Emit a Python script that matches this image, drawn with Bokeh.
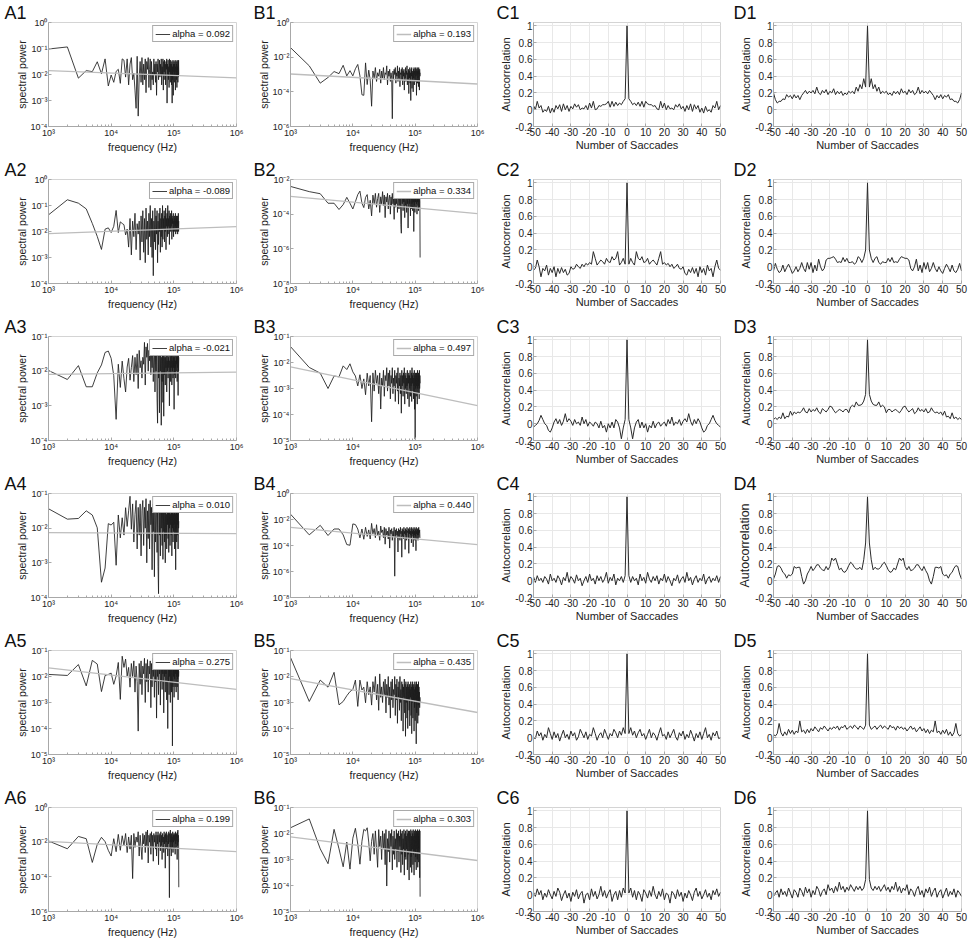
import numpy as np
from bokeh.plotting import figure
from bokeh.layouts import gridplot
from bokeh.models import Range1d, FixedTicker, CustomJSTickFormatter, Legend, LegendItem
from bokeh.embed import file_html
from bokeh.resources import INLINE

# ---------------- data ----------------
freq_step_hz = 1000
freq_index = list(range(1, 121))          # frequency = index * 1000 Hz

# log10(spectral power) per frequency index
A1_log_power = [-1.02,-0.94,-2.14,-1.85,-1.89,-1.51,-1.97,-1.40,-2.44,-2.02,
 -2.30,-1.88,-1.80,-2.34,-1.40,-1.45,-2.10,-1.40,-2.40,-1.60,
 -1.35,-2.20,-1.95,-2.60,-3.30,-1.30,-3.60,-2.10,-1.50,-2.30,
 -1.35,-2.40,-1.60,-2.20,-1.40,-2.70,-1.50,-1.80,-1.35,-2.50,
 -1.80,-1.40,-2.60,-1.50,-2.20,-1.90,-2.40,-1.40,-2.00,-1.60,
 -2.30,-1.50,-2.80,-1.60,-1.90,-1.40,-2.20,-1.80,-1.45,-2.10,
 -1.60,-2.00,-1.40,-2.40,-1.70,-2.00,-1.40,-2.60,-1.50,-1.90,
 -1.45,-2.20,-1.60,-2.40,-1.50,-1.80,-1.40,-3.10,-1.60,-2.00,
 -1.45,-2.20,-1.70,-2.50,-1.40,-1.90,-1.60,-2.30,-1.45,-2.00,
 -1.60,-2.40,-1.50,-3.10,-1.70,-2.20,-1.45,-2.80,-1.60,-1.90,
 -1.50,-2.30,-1.60,-2.00,-1.45,-2.60,-1.70,-1.90,-1.50,-2.20,
 -1.60,-2.50,-1.45,-2.00,-1.70,-2.30,-1.50,-2.10,-1.45,-2.00]
A2_log_power = [-1.36,-0.78,-0.91,-1.13,-1.69,-2.19,-2.69,-1.91,-1.86,-2.04,
 -1.80,-1.19,-2.04,-1.63,-1.69,-1.74,-2.13,-1.91,-2.60,-1.50,
 -2.90,-1.60,-2.20,-1.30,-2.70,-1.70,-2.10,-1.60,-3.10,-1.40,
 -2.40,-1.20,-2.80,-1.50,-3.20,-1.10,-2.30,-1.60,-2.90,-1.30,
 -2.20,-1.00,-2.60,-1.50,-3.00,-1.20,-3.70,-1.60,-2.40,-1.10,
 -2.70,-1.40,-2.10,-1.20,-3.20,-1.60,-2.50,-1.30,-2.00,-1.10,
 -2.80,-1.50,-2.20,-1.30,-2.60,-1.00,-2.30,-1.50,-1.90,-1.20,
 -2.40,-1.40,-2.00,-1.10,-2.70,-1.50,-1.80,-1.30,-2.20,-1.00,
 -2.10,-1.50,-1.80,-1.20,-2.50,-1.40,-1.90,-1.30,-2.00,-1.50,
 -1.80,-1.20,-2.30,-1.40,-1.70,-1.50,-2.00,-1.30,-2.20,-1.60,
 -1.70,-1.40,-2.00,-1.50,-1.80,-1.30,-2.10,-1.60,-1.90,-1.40,
 -2.00,-1.50,-1.70,-1.40,-2.10,-1.60,-1.80,-1.30,-2.00,-1.60]
A3_log_power = [-1.98,-2.24,-1.84,-2.45,-2.45,-2.05,-1.82,-1.46,-1.42,-1.63,
 -2.13,-3.39,-1.80,-2.47,-1.71,-2.22,-2.60,-1.88,-1.63,-2.26,
 -1.90,-1.55,-2.30,-1.60,-2.10,-1.50,-2.50,-1.40,-1.90,-1.70,
 -2.20,-1.60,-1.80,-1.17,-2.40,-1.30,-1.60,-1.20,-2.00,-1.40,
 -1.70,-1.25,-2.10,-1.40,-1.90,-1.30,-2.30,-1.60,-1.40,-2.60,
 -1.50,-2.00,-1.30,-2.80,-3.50,-1.40,-2.20,-1.30,-3.20,-1.50,
 -2.00,-1.40,-3.56,-1.60,-2.30,-1.50,-2.90,-1.40,-3.30,-1.60,
 -2.10,-1.50,-2.40,-1.60,-1.90,-1.40,-2.60,-1.70,-2.00,-1.50,
 -2.20,-1.60,-1.90,-1.40,-3.00,-1.70,-2.00,-1.50,-2.30,-1.60,
 -1.90,-1.50,-2.40,-1.70,-2.00,-1.40,-2.20,-1.60,-1.90,-1.50,
 -3.10,-1.60,-2.10,-1.50,-1.90,-1.70,-2.20,-1.40,-2.00,-1.60,
 -1.80,-1.50,-2.30,-1.60,-1.90,-1.20,-2.70,-1.50,-2.00,-1.60]
A4_log_power = [-1.44,-1.74,-1.72,-1.50,-1.62,-1.99,-3.56,-3.15,-1.87,-1.91,
 -1.83,-3.07,-1.62,-2.28,-1.70,-2.20,-1.41,-1.95,-1.50,-1.08,
 -2.03,-1.30,-2.40,-1.60,-1.20,-2.60,-1.40,-2.20,-1.30,-2.80,
 -1.50,-1.20,-2.50,-1.40,-2.00,-1.15,-3.00,-1.50,-2.30,-1.30,
 -2.60,-1.20,-1.90,-1.40,-3.20,-1.30,-2.10,-1.50,-3.40,-1.20,
 -2.40,-1.60,-1.30,-2.70,-1.40,-3.10,-3.89,-1.50,-2.20,-1.25,
 -2.80,-1.40,-2.00,-1.30,-2.50,-1.20,-2.90,-1.50,-2.10,-1.30,
 -2.40,-1.40,-3.00,-1.20,-2.20,-1.60,-2.60,-1.30,-1.90,-1.40,
 -2.30,-1.50,-2.70,-1.25,-2.00,-1.40,-2.50,-1.60,-1.90,-1.30,
 -2.20,-1.50,-2.80,-1.40,-2.00,-1.30,-2.40,-1.60,-2.10,-1.40,
 -1.90,-1.50,-2.60,-1.30,-2.10,-1.60,-3.20,-1.40,-2.00,-1.50,
 -2.40,-1.30,-2.20,-1.60,-1.90,-1.40,-2.60,-1.50,-2.00,-1.80]
A5_log_power = [-1.92,-1.96,-1.54,-2.36,-1.38,-1.52,-2.58,-1.96,-1.92,-1.87,
 -2.30,-1.98,-1.46,-2.88,-1.22,-1.65,-1.33,-1.98,-1.65,-2.41,
 -1.50,-2.00,-1.40,-2.60,-1.60,-2.20,-4.10,-1.50,-2.30,-1.40,
 -2.70,-1.60,-1.90,-1.30,-3.00,-1.50,-2.20,-1.35,-2.60,-1.60,
 -1.90,-1.40,-3.20,-1.50,-2.40,-1.30,-2.00,-1.70,-2.80,-1.50,
 -2.20,-1.40,-3.60,-1.60,-2.00,-1.50,-2.70,-1.40,-1.90,-1.60,
 -3.10,-1.50,-2.20,-1.40,-2.50,-1.70,-1.90,-1.40,-3.40,-1.60,
 -2.00,-1.50,-2.60,-1.70,-1.90,-1.40,-2.90,-1.60,-2.10,-4.00,
 -1.60,-2.20,-1.50,-2.70,-1.70,-2.00,-1.40,-3.00,-1.60,-2.20,
 -1.50,-2.60,-1.70,-1.90,-4.67,-1.50,-2.40,-1.70,-2.00,-1.60,
 -2.80,-1.50,-2.10,-1.70,-2.40,-1.60,-1.90,-1.50,-2.60,-1.70,
 -2.00,-1.60,-2.40,-1.50,-2.10,-1.70,-2.90,-1.60,-2.00,-1.80]
A6_log_power = [-1.93,-2.38,-1.67,-1.80,-3.17,-2.13,-1.72,-1.97,-2.47,-2.80,
 -1.80,-2.55,-1.55,-2.47,-1.63,-2.20,-1.50,-2.60,-1.70,-2.40,
 -1.60,-4.10,-1.50,-2.30,-1.70,-2.00,-1.40,-2.80,-1.60,-2.30,
 -3.00,-1.50,-2.10,-1.60,-2.60,-1.40,-2.20,-1.30,-3.20,-1.60,
 -2.00,-1.50,-2.70,-1.40,-2.30,-1.60,-3.10,-1.50,-2.00,-1.60,
 -2.40,-1.40,-2.80,-1.60,-2.10,-1.40,-3.30,-1.60,-2.00,-1.50,
 -2.50,-1.40,-2.20,-1.60,-3.00,-1.50,-2.00,-1.70,-2.60,-1.40,
 -2.10,-1.60,-3.50,-1.50,-2.00,-1.40,-2.40,-1.60,-1.90,-2.80,
 -1.50,-2.10,-1.40,-2.60,-5.20,-1.50,-2.00,-1.30,-2.40,-1.60,
 -2.80,-1.50,-2.00,-1.70,-2.30,-1.40,-2.60,-1.60,-2.00,-1.50,
 -2.40,-1.60,-1.90,-1.50,-2.70,-1.40,-2.10,-1.60,-2.30,-1.50,
 -1.90,-1.60,-3.00,-1.40,-2.20,-1.30,-2.00,-1.60,-1.80,-4.60]
B1_log_power = [-1.45,-2.50,-3.50,-3.17,-2.83,-2.95,-2.47,-3.08,-2.78,-3.08,
 -2.67,-2.42,-3.08,-4.17,-4.20,-2.33,-3.58,-2.75,-3.33,-4.83,
 -2.80,-3.20,-2.60,-3.40,-2.90,-3.10,-2.70,-3.50,-2.80,-3.20,
 -2.60,-3.30,-2.90,-3.00,-2.50,-3.60,-2.80,-3.10,-2.70,-3.40,
 -2.90,-3.20,-5.55,-2.80,-3.30,-2.70,-3.00,-2.60,-3.50,-2.90,
 -3.10,-2.50,-3.40,-2.80,-3.20,-2.60,-3.70,-2.90,-3.00,-2.70,
 -3.30,-2.60,-3.60,-2.80,-3.10,-2.70,-3.90,-2.90,-3.20,-2.60,
 -3.40,-2.80,-3.00,-2.50,-3.60,-2.90,-3.30,-2.70,-4.10,-2.80,
 -3.20,-2.60,-3.50,-2.90,-4.50,-2.70,-3.10,-2.60,-3.80,-2.80,
 -3.30,-2.90,-4.00,-2.70,-3.20,-2.60,-3.60,-2.80,-3.00,-2.70,
 -3.40,-2.60,-3.10,-2.80,-4.20,-2.70,-3.00,-2.60,-3.50,-2.80,
 -3.20,-2.70,-3.70,-2.60,-3.00,-2.80,-3.90,-2.70,-3.10,-2.90]
B2_log_power = [-2.40,-2.70,-2.82,-3.37,-3.37,-3.73,-3.45,-3.03,-3.37,-3.70,
 -3.28,-2.87,-2.67,-3.37,-3.62,-3.03,-2.87,-3.70,-3.20,-4.10,
 -2.90,-3.40,-2.80,-3.60,-3.10,-2.80,-3.90,-3.00,-3.40,-2.70,
 -3.50,-2.90,-4.20,-3.00,-3.30,-2.80,-3.70,-3.10,-2.90,-4.00,
 -3.00,-3.50,-2.80,-3.40,-3.10,-4.30,-2.90,-3.60,-3.00,-3.40,
 -2.80,-3.90,-3.20,-3.00,-3.70,-2.90,-3.50,-3.10,-4.60,-5.10,
 -3.00,-3.40,-2.90,-3.80,-3.10,-3.30,-2.90,-4.20,-3.00,-3.50,
 -3.20,-2.90,-3.90,-3.10,-3.40,-3.00,-4.80,-3.20,-2.90,-3.60,
 -3.10,-3.40,-2.90,-4.10,-3.20,-3.00,-3.70,-3.10,-3.40,-2.90,
 -3.80,-3.10,-3.30,-3.00,-5.00,-3.20,-3.50,-3.00,-3.90,-3.10,
 -3.30,-3.00,-3.60,-3.20,-3.40,-2.90,-4.00,-3.10,-3.30,-3.00,
 -3.50,-3.10,-3.80,-3.00,-3.30,-3.20,-3.60,-3.10,-3.30,-6.50]
B3_log_power = [-1.39,-2.19,-2.41,-3.00,-2.52,-2.55,-2.13,-2.27,-2.05,-2.36,
 -2.52,-2.90,-2.47,-3.00,-2.63,-3.24,-2.41,-2.90,-2.50,-4.28,
 -2.40,-3.10,-2.30,-2.80,-2.50,-3.20,-2.40,-3.79,-2.60,-2.90,
 -2.30,-3.30,-2.50,-2.70,-2.20,-3.10,-2.40,-2.90,-2.30,-3.40,
 -2.50,-2.80,-2.20,-3.20,-2.60,-2.90,-2.30,-3.50,-2.50,-2.80,
 -2.40,-3.10,-2.20,-3.60,-2.60,-2.90,-2.40,-3.20,-2.50,-3.95,
 -2.30,-2.90,-2.50,-3.30,-2.40,-2.80,-2.20,-3.60,-2.50,-3.00,
 -2.40,-3.20,-2.60,-2.90,-2.30,-3.40,-2.50,-2.80,-2.40,-3.70,
 -2.50,-3.00,-2.30,-3.30,-2.60,-2.90,-2.40,-3.50,-2.20,-2.80,
 -2.50,-3.10,-2.40,-3.40,-2.60,-2.90,-2.30,-3.80,-2.50,-4.95,
 -2.40,-3.00,-2.60,-3.30,-2.40,-2.90,-2.50,-3.60,-2.30,-3.00,
 -2.60,-3.20,-2.40,-2.90,-2.50,-3.40,-2.30,-3.00,-2.50,-2.80]
B4_log_power = [-1.59,-3.18,-2.45,-3.23,-2.73,-2.73,-3.18,-3.93,-3.98,-2.34,
 -2.39,-2.73,-3.41,-2.73,-3.52,-2.60,-3.30,-2.80,-3.50,-2.30,
 -3.10,-2.70,-3.40,-2.40,-3.20,-2.90,-3.60,-2.50,-3.00,-2.80,
 -3.40,-2.60,-3.90,-2.70,-3.20,-2.90,-3.50,-2.60,-4.20,-2.80,
 -3.10,-2.70,-3.60,-2.90,-3.30,-2.60,-6.36,-2.80,-3.40,-2.70,
 -3.20,-2.90,-4.50,-2.70,-3.30,-2.80,-3.60,-2.60,-3.10,-2.90,
 -4.90,-2.70,-3.30,-2.80,-3.50,-2.60,-3.10,-2.90,-4.30,-2.70,
 -3.20,-2.80,-3.60,-2.60,-3.00,-2.90,-3.40,-2.70,-4.60,-2.80,
 -3.10,-2.60,-3.50,-2.90,-3.20,-2.70,-3.80,-2.60,-3.30,-2.90,
 -3.10,-2.70,-4.10,-2.80,-3.40,-2.60,-3.20,-2.90,-3.60,-2.70,
 -3.30,-2.80,-4.40,-2.60,-3.10,-2.90,-3.50,-2.70,-3.20,-2.80,
 -3.60,-2.70,-3.20,-2.60,-3.40,-2.90,-3.00,-2.80,-3.30,-3.40]
B5_log_power = [-1.27,-2.96,-2.14,-2.41,-1.84,-3.09,-2.96,-2.74,-2.58,-2.50,
 -2.14,-3.15,-2.14,-2.52,-2.41,-3.01,-2.20,-2.70,-2.40,-3.10,
 -2.20,-2.60,-2.00,-2.90,-2.30,-3.30,-1.90,-2.80,-2.40,-3.00,
 -2.20,-2.70,-2.10,-3.40,-2.30,-2.80,-2.00,-3.10,-2.40,-3.60,
 -2.20,-2.90,-2.10,-3.20,-2.50,-2.70,-2.00,-3.50,-2.30,-2.90,
 -2.10,-3.80,-2.40,-2.80,-2.20,-3.30,-2.00,-3.00,-2.50,-3.70,
 -2.20,-2.90,-2.30,-4.10,-2.40,-2.80,-2.10,-3.40,-2.30,-4.30,
 -2.20,-3.00,-2.40,-3.60,-2.30,-4.00,-2.20,-2.90,-2.40,-3.30,
 -2.30,-3.90,-2.50,-2.80,-2.20,-3.50,-2.40,-4.20,-2.30,-3.00,
 -2.20,-3.60,-2.40,-2.90,-2.30,-4.10,-2.50,-3.20,-2.20,-3.70,
 -2.40,-2.90,-2.30,-4.59,-2.20,-3.40,-2.50,-3.00,-2.30,-3.80,
 -2.40,-3.10,-2.20,-3.50,-2.40,-2.90,-2.60,-3.20,-2.80,-3.00]
B6_log_power = [-1.78,-1.44,-2.59,-3.16,-1.84,-2.59,-3.28,-2.33,-3.37,-2.18,
 -1.80,-2.41,-3.18,-2.30,-1.84,-1.90,-1.78,-2.33,-3.05,-2.30,
 -2.00,-2.80,-1.90,-2.60,-3.30,-1.85,-2.50,-2.10,-3.00,-1.90,
 -2.60,-2.00,-3.20,-1.85,-4.02,-2.20,-2.70,-1.90,-3.10,-2.00,
 -2.50,-1.85,-3.40,-2.10,-2.80,-1.90,-3.00,-2.20,-2.60,-1.85,
 -3.30,-2.00,-2.70,-1.90,-3.10,-2.10,-2.50,-1.85,-3.50,-2.00,
 -2.80,-1.90,-3.20,-2.20,-2.60,-1.85,-3.60,-2.00,-2.90,-1.90,
 -3.00,-2.10,-2.60,-1.85,-3.40,-2.00,-2.80,-1.90,-3.10,-3.79,
 -1.90,-2.70,-2.00,-3.30,-1.85,-2.90,-2.10,-3.50,-1.90,-2.60,
 -2.00,-3.20,-1.85,-2.80,-2.10,-3.60,-1.90,-2.70,-2.00,-3.10,
 -1.85,-2.90,-2.10,-3.40,-1.90,-2.60,-2.00,-3.00,-1.85,-3.30,
 -2.00,-2.70,-1.90,-3.10,-2.10,-2.60,-1.85,-3.70,-1.90,-4.43]

spec_names = ["A1","A2","A3","A4","A5","A6","B1","B2","B3","B4","B5","B6"]
spec_alpha = [0.092,-0.089,-0.021,0.010,0.275,0.199,0.193,0.334,0.497,0.440,0.435,0.303]
spec_fit_log_at_1khz = [-1.85,-2.08,-2.09,-2.13,-1.67,-1.95,-2.97,-2.97,-2.17,-2.61,-2.08,-2.13]
spec_ylim_exp = [(-4,0),(-4,0),(-4,-1),(-4,-1),(-5,-1),(-6,0),
                 (-6,0),(-8,-2),(-5,-1),(-8,0),(-5,-1),(-5,-1)]
spec_ytick_step = [1,1,1,1,1,2, 2,2,1,2,1,1]
x_tick_exp = [3,4,5,6]

# autocorrelation, lags 0..50 (symmetric about lag 0)
lags_pos = list(range(0, 51))
C1_acf = [1.0,0.13,0.10,0.06,0.08,0.05,0.09,0.04,0.10,0.03,0.10,0.07,0.06,0.06,0.04,0.05,0.01,0.00,0.10,0.02,
          0.08,0.00,0.05,0.01,0.02,0.00,0.06,0.03,0.07,0.01,0.04,-0.02,0.05,0.00,0.07,-0.02,0.06,0.01,0.05,-0.03,
          0.02,-0.04,0.04,-0.02,0.00,-0.03,0.05,0.02,0.10,0.00,0.05]
C2_acf = [1.0,0.03,0.10,0.05,0.02,0.18,0.10,0.08,0.12,0.05,0.06,0.10,0.03,0.06,0.08,0.05,0.02,0.10,0.18,0.03,
          0.05,0.02,0.04,0.00,0.03,-0.02,0.00,0.03,-0.02,-0.03,0.00,-0.08,-0.10,-0.03,-0.07,-0.01,-0.08,-0.02,-0.12,0.00,
          -0.07,-0.02,-0.10,0.02,-0.05,-0.02,-0.12,0.00,0.08,-0.02,-0.04]
C3_acf = [1.0,0.05,-0.05,-0.18,-0.05,0.02,0.05,-0.05,0.02,-0.05,0.00,-0.10,-0.02,-0.05,0.03,-0.05,0.00,0.02,-0.03,0.00,
          0.02,-0.03,0.05,0.00,0.08,-0.02,0.02,0.00,0.05,-0.02,0.03,0.06,0.02,0.12,0.03,-0.02,0.05,0.00,0.06,0.02,
          -0.05,-0.10,-0.08,-0.02,0.00,0.05,0.10,0.04,0.00,-0.02,-0.04]
C4_acf = [1.0,0.06,-0.02,0.05,0.00,0.03,-0.05,0.08,0.00,0.04,-0.03,0.10,0.02,-0.02,0.05,0.00,0.06,-0.04,0.03,0.00,
          0.08,-0.02,0.05,0.00,-0.06,0.03,0.00,0.07,-0.03,0.02,0.05,-0.02,0.10,0.00,0.04,-0.05,0.02,0.06,-0.02,0.03,
          0.00,0.08,-0.04,0.02,0.05,-0.02,0.03,0.00,0.06,-0.02,0.05]
C5_acf = [1.0,0.05,0.12,0.03,0.08,0.00,0.06,0.10,0.02,0.05,-0.02,0.04,0.10,0.00,0.06,0.03,-0.03,0.05,0.12,0.02,
          0.04,-0.02,0.07,0.00,0.05,0.10,0.01,-0.03,0.06,0.02,0.08,-0.02,0.04,0.00,0.09,0.03,-0.04,0.05,0.00,0.07,
          -0.02,0.05,0.12,0.00,0.04,-0.03,0.06,0.02,0.08,-0.01,0.00]
C6_acf = [1.0,0.02,0.08,-0.03,0.05,-0.06,0.04,0.00,-0.08,0.06,0.02,-0.04,0.05,-0.02,0.10,0.00,-0.05,0.04,-0.02,0.07,
          -0.06,0.02,0.00,-0.10,0.04,0.01,-0.05,0.06,-0.02,0.03,-0.08,0.02,-0.04,0.05,0.00,-0.07,0.03,0.08,-0.02,0.04,
          -0.05,0.00,0.06,-0.03,0.02,-0.06,0.05,0.00,0.07,-0.02,0.03]
D1_acf = [1.0,0.27,0.37,0.25,0.30,0.22,0.27,0.19,0.22,0.20,0.22,0.18,0.20,0.17,0.22,0.19,0.22,0.18,0.25,0.20,
          0.22,0.18,0.24,0.20,0.23,0.18,0.20,0.27,0.19,0.23,0.20,0.22,0.19,0.23,0.20,0.17,0.12,0.17,0.14,0.18,
          0.13,0.17,0.15,0.18,0.12,0.13,0.10,0.10,0.08,0.12,0.20]
D2_acf = [1.0,0.20,0.10,0.05,0.10,0.12,0.05,0.03,0.06,0.05,0.05,0.10,0.06,0.11,0.05,0.06,0.05,0.09,0.12,0.11,
          0.10,0.10,0.08,-0.02,-0.05,0.00,0.09,-0.05,0.02,-0.07,0.05,-0.03,0.05,-0.06,-0.02,0.05,-0.02,-0.06,0.00,-0.05,
          -0.08,-0.02,0.03,-0.01,-0.06,0.02,-0.05,-0.07,-0.03,0.04,-0.05]
D3_acf = [1.0,0.35,0.27,0.23,0.22,0.22,0.26,0.20,0.22,0.20,0.13,0.17,0.17,0.14,0.16,0.17,0.15,0.13,0.16,0.20,
          0.21,0.17,0.14,0.16,0.18,0.12,0.14,0.19,0.15,0.17,0.14,0.18,0.13,0.14,0.19,0.15,0.13,0.14,0.12,0.14,
          0.10,0.15,0.08,0.09,0.06,0.13,0.06,0.08,0.05,0.07,0.05]
D4_acf = [1.0,0.45,0.25,0.13,0.16,0.14,0.14,0.16,0.20,0.22,0.18,0.13,0.10,0.11,0.15,0.13,0.20,0.27,0.24,0.27,
          0.17,0.13,0.17,0.12,0.13,0.15,0.19,0.19,0.15,0.12,0.17,0.12,0.08,0.00,-0.04,0.05,0.16,0.16,0.15,0.17,
          0.08,0.06,0.07,0.03,0.08,0.10,0.15,0.18,0.17,0.08,0.02]
D5_acf = [1.0,0.15,0.10,0.12,0.14,0.10,0.13,0.15,0.11,0.14,0.12,0.10,0.15,0.12,0.13,0.09,0.14,0.11,0.13,0.10,
          0.12,0.08,0.11,0.14,0.10,0.12,0.07,0.10,0.13,0.08,0.11,0.06,0.10,0.05,0.09,0.07,0.20,0.06,0.08,0.04,
          0.09,0.05,0.10,0.03,0.07,0.02,0.06,0.17,0.05,0.02,0.04]
D6_acf = [1.0,0.18,0.08,0.05,0.10,0.06,0.10,0.04,0.08,0.12,0.05,0.09,0.03,0.10,0.06,0.15,0.04,0.10,0.02,0.08,
          0.05,0.12,0.00,0.07,0.04,-0.02,0.06,0.10,0.00,0.05,-0.03,0.07,0.02,0.09,-0.02,0.04,0.08,-0.03,0.03,0.06,
          -0.04,0.02,0.08,-0.02,0.04,0.00,0.07,-0.03,0.05,0.02,-0.02]

spec_data = [A1_log_power, A2_log_power, A3_log_power, A4_log_power, A5_log_power, A6_log_power,
             B1_log_power, B2_log_power, B3_log_power, B4_log_power, B5_log_power, B6_log_power]
acf_names = ["C1","C2","C3","C4","C5","C6","D1","D2","D3","D4","D5","D6"]
acf_data = [C1_acf, C2_acf, C3_acf, C4_acf, C5_acf, C6_acf, D1_acf, D2_acf, D3_acf, D4_acf, D5_acf, D6_acf]
acf_xticks = [-50,-40,-30,-20,-10,0,10,20,30,40,50]
acf_yticks = [-0.2,0,0.2,0.4,0.6,0.8,1.0]

# ---------------- layout / style ----------------
FONT = "Liberation Sans"
ROW_H = 157
COL_W = [244, 242, 243, 239]
COL_BL = [48, 46, 47, 44]
COL_BR = [8, 9, 9, 7]
TITLE_OFF = [-44, -37, -37, -40]     # px relative to the frame's left edge
AXIS_C = "#a8a8a8"

log_fmt = CustomJSTickFormatter(code="""
const e = Math.round(Math.log10(tick));
const sup = {'-':'\u207b','0':'\u2070','1':'\u00b9','2':'\u00b2','3':'\u00b3','4':'\u2074','5':'\u2075','6':'\u2076','7':'\u2077','8':'\u2078','9':'\u2079'};
return '10' + String(e).split('').map(c => sup[c]).join('');
""")
lin_fmt = CustomJSTickFormatter(code="return String(Math.round(tick*10)/10);")


def base_fig(col, name, **kw):
    p = figure(width=COL_W[col], height=ROW_H, output_backend="svg", toolbar_location=None,
               min_border_left=COL_BL[col], min_border_right=COL_BR[col],
               min_border_top=0, min_border_bottom=31, **kw)
    p.title.text = name
    p.title.align = "left"
    p.title.offset = TITLE_OFF[col]
    p.title.standoff = 0
    p.title.text_font = FONT
    p.title.text_font_size = "18px"
    p.title.text_font_style = "normal"
    p.title.text_color = "#111111"
    p.outline_line_color = "#d4d4d4"
    p.background_fill_color = "white"
    p.border_fill_color = "white"
    for ax in (p.xaxis[0], p.yaxis[0]):
        ax.axis_line_color = AXIS_C
        ax.major_tick_line_color = AXIS_C
        ax.minor_tick_line_color = AXIS_C
        ax.major_tick_in = 3
        ax.major_tick_out = 0
        ax.minor_tick_in = 2
        ax.minor_tick_out = 0
        ax.major_label_text_font = FONT
        ax.major_label_text_color = "#222222"
        ax.axis_label_text_font = FONT
        ax.axis_label_text_font_style = "normal"
        ax.axis_label_text_color = "#222222"
        ax.major_label_standoff = 1
        ax.axis_label_standoff = 0
    return p


def spectral_fig(i):
    col = 0 if i < 6 else 1
    lo, hi = spec_ylim_exp[i]
    p = base_fig(col, spec_names[i], x_axis_type="log", y_axis_type="log",
                 x_range=Range1d(10.0**3, 10.0**6), y_range=Range1d(10.0**lo, 10.0**hi))
    minors = [m * 10.0**e for e in x_tick_exp[:-1] for m in range(2, 10)]
    p.xaxis.ticker = FixedTicker(ticks=[10.0**e for e in x_tick_exp], minor_ticks=minors)
    p.yaxis.ticker = FixedTicker(ticks=[10.0**e for e in range(lo, hi + 1, spec_ytick_step[i])], minor_ticks=[])
    p.xaxis.formatter = log_fmt
    p.yaxis.formatter = log_fmt
    p.xaxis.major_label_text_font_size = "9px"
    p.yaxis.major_label_text_font_size = "9px"
    p.xaxis.axis_label = "frequency (Hz)"
    p.yaxis.axis_label = "spectral power"
    p.xaxis.axis_label_text_font_size = "10.5px"
    p.yaxis.axis_label_text_font_size = "10.5px"
    p.grid.visible = False

    freqs = [k * freq_step_hz for k in freq_index]
    power = [10.0**v for v in spec_data[i]]
    a = spec_alpha[i]
    c = spec_fit_log_at_1khz[i]
    fit_x = [1e3, 1e6]
    fit_y = [10.0**c, 10.0**(c - a * 3)]
    r_data = p.line(freqs, power, line_color="#1e1e1e", line_width=0.85)
    r_fit = p.line(fit_x, fit_y, line_color="#bdbdbd", line_width=1.3)
    leg_r = r_data if col == 0 else r_fit
    leg = Legend(items=[LegendItem(label="alpha = %.3f" % a, renderers=[leg_r])],
                 location="top_right", label_text_font=FONT, label_text_font_size="9.5px",
                 label_text_color="#111111", glyph_width=15, glyph_height=10, label_height=10,
                 label_standoff=2, padding=2, margin=3, spacing=0,
                 border_line_color="#555555", border_line_width=1,
                 background_fill_color="white", background_fill_alpha=1.0)
    p.add_layout(leg)
    return p


def acf_fig(i):
    col = 2 if i < 6 else 3
    p = base_fig(col, acf_names[i], x_range=Range1d(-50, 50), y_range=Range1d(-0.2, 1.04))
    p.xaxis.ticker = FixedTicker(ticks=acf_xticks, minor_ticks=[])
    p.yaxis.ticker = FixedTicker(ticks=acf_yticks, minor_ticks=[])
    p.xaxis.formatter = lin_fmt
    p.yaxis.formatter = lin_fmt
    p.xaxis.major_label_text_font_size = "10px"
    p.yaxis.major_label_text_font_size = "10px"
    p.xaxis.axis_label = "Number of Saccades"
    p.yaxis.axis_label = "Autocorrelation"
    p.xaxis.axis_label_text_font_size = "11px"
    p.yaxis.axis_label_text_font_size = "12.5px" if acf_names[i] == "D4" else "11px"
    p.grid.grid_line_color = "#e8e8e8"
    p.grid.grid_line_width = 1
    vals = acf_data[i]
    lags = [-l for l in lags_pos[::-1]] + lags_pos[1:]
    acf = vals[::-1] + vals[1:]
    p.line(lags, acf, line_color="#2a2a2a", line_width=1)
    return p


rows = []
for r in range(6):
    rows.append([spectral_fig(r), spectral_fig(6 + r), acf_fig(r), acf_fig(6 + r)])

grid = gridplot(rows, toolbar_location=None)
open("out.html", "w").write(file_html(grid, INLINE))
